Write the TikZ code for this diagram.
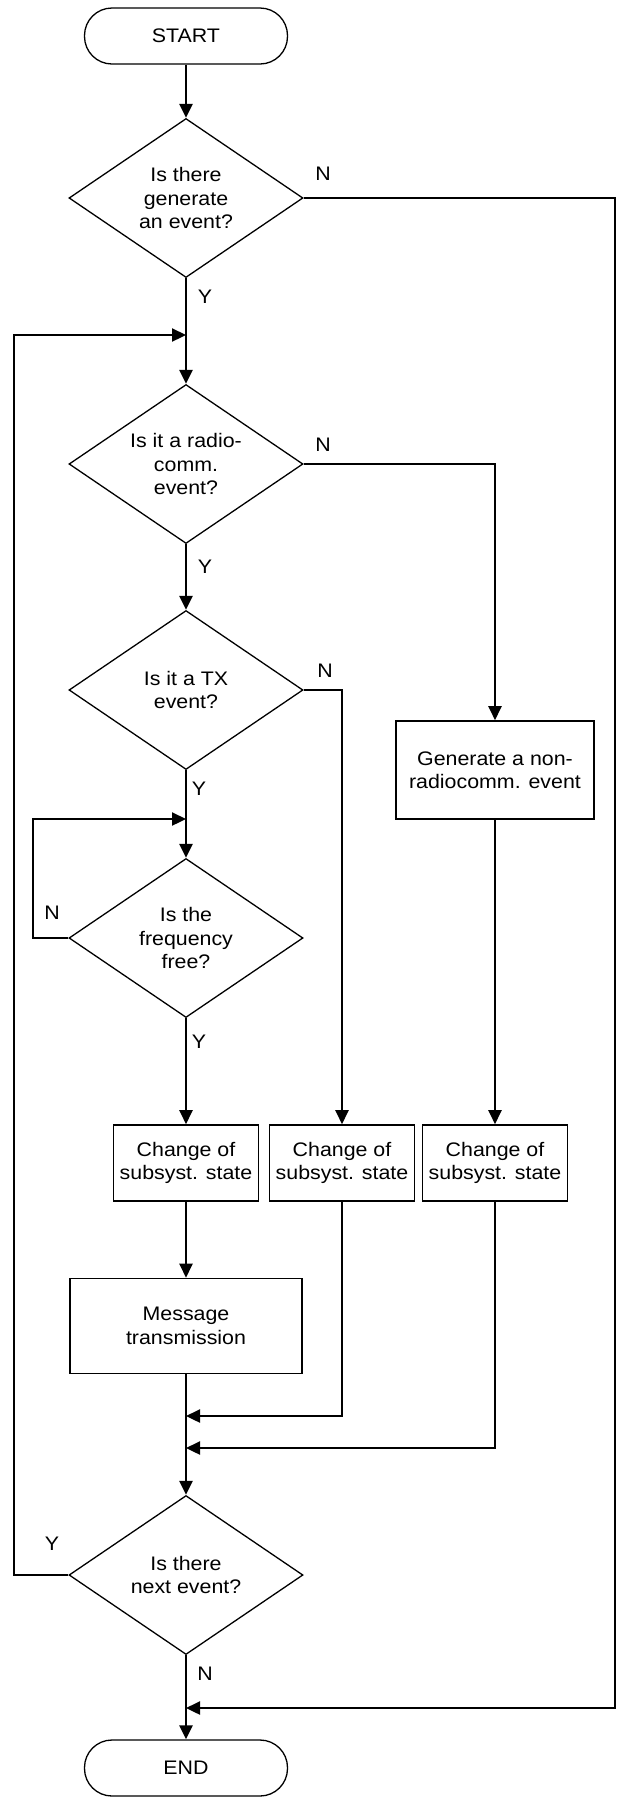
\documentclass[tikz,border=0pt]{standalone}
\usepackage{fontspec}
\setmainfont{Liberation Sans}[FakeStretch=1.09]
\usetikzlibrary{shapes.geometric,arrows.meta}
\begin{document}
\begin{tikzpicture}[x=1pt,y=-1pt,
  every node/.style={font=\fontsize{19.6}{23.5}\selectfont},
  dec/.style={diamond,draw,line width=1.3pt,aspect=1.5,inner sep=-6pt,minimum width=234pt,minimum height=159pt,align=center},
  term/.style={draw,line width=1.3pt,rounded corners=27.5pt,minimum width=203pt,minimum height=56pt},
  proc/.style={draw,line width=1.6pt,align=center,inner sep=0pt},
  conn/.style={line width=2.3pt,-{Triangle[length=14pt,width=13pt]}},
  lbl/.style={inner sep=0pt}
]
\useasboundingbox (0,0) rectangle (617,1797);

\node[term] (start) at (186,36) {START};
\node[dec] (d1) at (186,198) {Is there\\generate\\an event?};
\node[dec] (d2) at (186,464) {Is it a radio-\\comm.\\event?};
\node[dec] (d3) at (186,690) {Is it a TX\\event?};
\node[dec] (d4) at (186,938) {Is the\\frequency\\free?};
\node[proc,minimum width=198pt,minimum height=98pt] (gen) at (495,770) {Generate a non-\\radiocomm. event};
\node[proc,minimum width=145pt,minimum height=76pt] (ca) at (186,1163) {Change of\\subsyst. state};
\node[proc,minimum width=145pt,minimum height=76pt] (cb) at (342,1163) {Change of\\subsyst. state};
\node[proc,minimum width=145pt,minimum height=76pt] (cc) at (495,1163) {Change of\\subsyst. state};
\node[proc,minimum width=232pt,minimum height=95pt] (msg) at (186,1326) {Message\\transmission};
\node[dec] (d5) at (186,1575) {Is there\\next event?};
\node[term] (end) at (186,1768) {END};

\coordinate (j1) at (186,335);
\coordinate (j1l) at (14,335);
\coordinate (j2) at (186,819);
\coordinate (j2l) at (33,819);
\coordinate (j3) at (186,1416);
\coordinate (j4) at (186,1448);
\coordinate (j5) at (186,1708);
\coordinate (rt) at (615,1708);

\draw[conn] (start.south) -- (d1.north);
\draw[conn] (d1.south) -- (d2.north);
\draw[conn] (d5.west) -| (j1l) -- (j1);
\draw[conn] (d2.east) -| (gen.north);
\draw[conn] (d2.south) -- (d3.north);
\draw[conn] (d3.east) -| (cb.north);
\draw[conn] (d3.south) -- (d4.north);
\draw[conn] (d4.west) -| (j2l) -- (j2);
\draw[conn] (d4.south) -- (ca.north);
\draw[conn] (gen.south) -- (cc.north);
\draw[conn] (ca.south) -- (msg.north);
\draw[conn] (msg.south) -- (d5.north);
\draw[conn] (cb.south) |- (j3);
\draw[conn] (cc.south) |- (j4);
\draw[conn] (d5.south) -- (end.north);
\draw[conn] (d1.east) -| (rt) -- (j5);

\node[lbl] (n1) at (323,174) {N};
\node[lbl] (y1) at (205,297) {Y};
\node[lbl] (n2) at (323,445) {N};
\node[lbl] (y2) at (205,567) {Y};
\node[lbl] (n3) at (325,671) {N};
\node[lbl] (y3) at (199,789) {Y};
\node[lbl] (n4) at (52,913) {N};
\node[lbl] (y4) at (199,1042) {Y};
\node[lbl] (y5) at (52,1544) {Y};
\node[lbl] (n5) at (205,1674) {N};
\end{tikzpicture}
\end{document}
